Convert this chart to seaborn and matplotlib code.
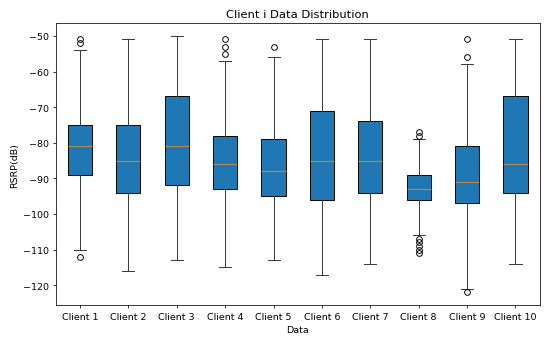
import numpy as np
import matplotlib
matplotlib.use("Agg")
import matplotlib.pyplot as plt
import seaborn as sns

# 各クライアントの箱ひげ図の統計量
clients = [f"Client {i}" for i in range(1, 11)]
q1 = [-89, -94, -92, -93, -95, -96, -94, -96, -97, -94]
med = [-81, -85, -81, -86, -88, -85, -85, -93, -91, -86]
q3 = [-75, -75, -67, -78, -79, -71, -74, -89, -81, -67]
whislo = [-110, -116, -113, -115, -113, -117, -114, -106, -121, -114]
whishi = [-54, -51, -50, -57, -56, -51, -51, -79, -58, -51]
fliers = [
    [-52, -51, -112],
    [],
    [],
    [-55, -53, -51],
    [-53],
    [],
    [],
    [-78, -77, -107, -108, -109, -110, -111],
    [-56, -51, -122],
    [],
]

pal = sns.color_palette("tab10")

stats = []
for i, name in enumerate(clients):
    stats.append(dict(label=name, q1=q1[i], med=med[i], q3=q3[i],
                      whislo=whislo[i], whishi=whishi[i],
                      fliers=np.array(fliers[i], dtype=float)))

fig, ax = plt.subplots(figsize=(8, 5.018), dpi=68.75)
bp = ax.bxp(stats, patch_artist=True, widths=0.5,
            boxprops=dict(facecolor=pal[0], edgecolor="black"),
            medianprops=dict(color="#b08850", linewidth=1.3),
            whiskerprops=dict(color="#333333"),
            capprops=dict(color="#333333"),
            flierprops=dict(marker="o", markerfacecolor="none", markeredgecolor="black"))

ax.set_title("Client i Data Distribution")
ax.set_xlabel("Data")
ax.set_ylabel("RSRP(dB)")

plt.tight_layout()
plt.savefig("out.png", dpi=68.75)
